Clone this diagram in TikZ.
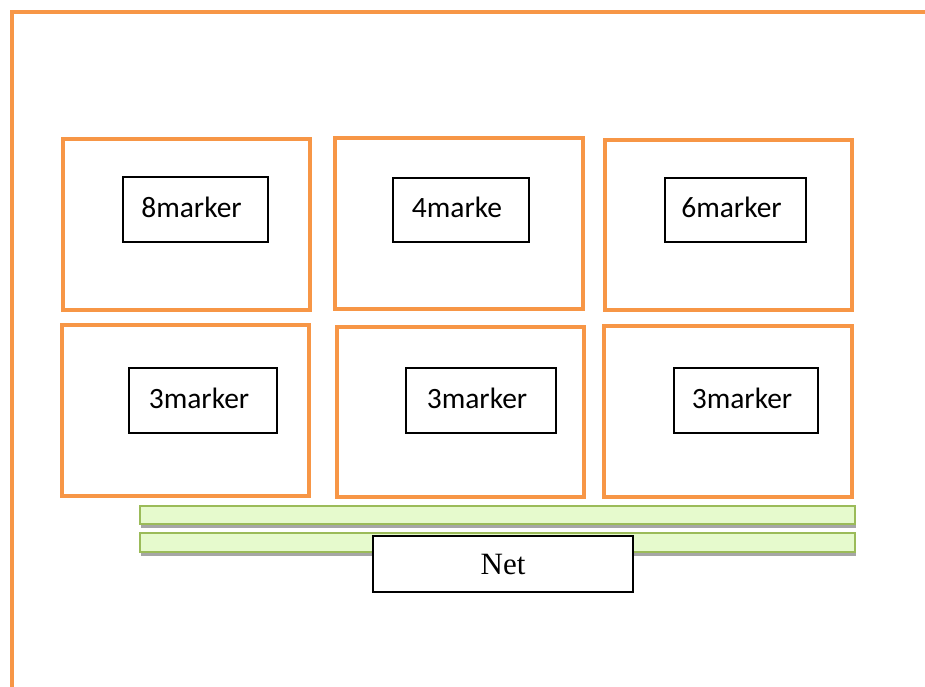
\documentclass[tikz,border=0pt]{standalone}
\usepackage{fontspec}
\setmainfont{Carlito}
\newfontfamily\netfont{Liberation Serif}
\usetikzlibrary{shapes,shadows}
\definecolor{BoxOrange}{RGB}{247,150,70}
\definecolor{BarGreen}{RGB}{155,187,89}
\definecolor{BarFill}{RGB}{230,250,205}

\begin{document}
\begin{tikzpicture}[x=1pt,y=-1pt]
		\tikzstyle{court} = [draw=BoxOrange, line width=4.5pt]
		\tikzstyle{zone} = [rectangle, draw=BoxOrange, line width=4pt, minimum width=247pt, minimum height=171pt]
		\tikzstyle{tag} = [rectangle, draw=black, line width=1.3pt, minimum height=65pt]
		\tikzstyle{tagtext} = [font=\fontsize{29.5}{34}\selectfont, xshift=-4pt, yshift=2.5pt]
		\tikzstyle{bar} = [rectangle, draw=BarGreen, line width=2pt, fill=BarFill, minimum width=715pt, drop shadow={shadow xshift=1pt, shadow yshift=-3.5pt, fill=gray!70, opacity=1}]
		
		\useasboundingbox (0,0) rectangle (925,687);
		\draw [court] (12,687) -- (12,12) -- (925,12);
		
		\node (zone1) [zone] at (186.5,224.5) {};
		\node (zone2) [zone, minimum width=248pt] at (459,223.5) {};
		\node (zone3) [zone, minimum height=170pt] at (728.5,225) {};
		\node (zone4) [zone] at (185.5,410.5) {};
		\node (zone5) [zone, minimum height=170pt] at (460.5,412) {};
		\node (zone6) [zone, minimum width=248pt] at (728,411.5) {};
		
		\node (tag1) [tag, minimum width=145pt, label={[tagtext]center:8marker}] at (195.5,209.5) {};
		\node (tag2) [tag, minimum width=136pt, minimum height=64pt, label={[tagtext]center:4marke}] at (461,210) {};
		\node (tag3) [tag, minimum width=141pt, minimum height=64pt, label={[tagtext]center:6marker}] at (735.5,210) {};
		\node (tag4) [tag, minimum width=148pt, label={[tagtext]center:3marker}] at (203,400.5) {};
		\node (tag5) [tag, minimum width=150pt, label={[tagtext]center:3marker}] at (481,400.5) {};
		\node (tag6) [tag, minimum width=144pt, label={[tagtext]center:3marker}] at (746,400.5) {};
		
		\node (bar1) [bar, minimum height=18pt] at (497.5,515) {};
		\node (bar2) [bar, minimum height=19pt] at (497.5,542.5) {};
		\node (net) [rectangle, draw=black, line width=1.3pt, fill=white, minimum width=260pt, minimum height=56pt, font=\netfont\fontsize{31}{36}\selectfont] at (503,564) {Net};
\end{tikzpicture}
\end{document}
